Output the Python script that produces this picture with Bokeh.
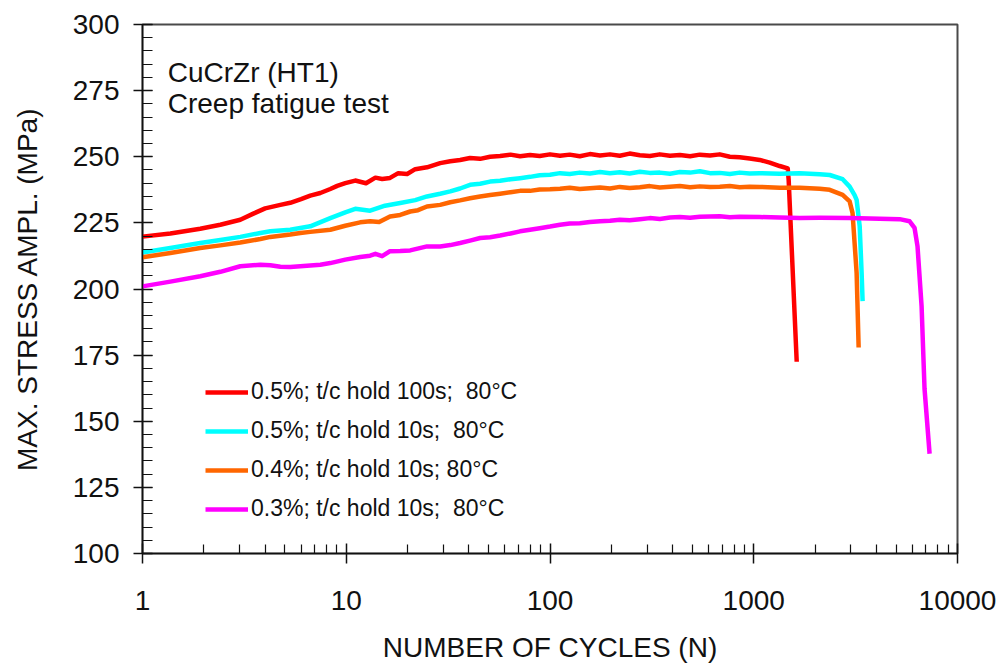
from bokeh.plotting import figure
from bokeh.models import (Range1d, FixedTicker, BasicTickFormatter, Legend,
                          LegendItem, Label)
from bokeh.embed import file_html
from bokeh.resources import INLINE

# ---------------- data ----------------
red_n = [1, 1.37, 1.92, 2.41, 3.02, 3.5, 4.0, 4.75, 5.31, 6.0,
         6.66, 7.46, 8.35, 9.03, 9.89, 11.07, 12.5, 13.9, 15.0, 16.4,
         18.0, 19.9, 21.8, 24.9, 28.9, 32.4, 36.2, 40.5, 45.4, 50.8,
         56.9, 64, 71.3, 79.8, 89, 100, 112, 125, 140, 157,
         176, 197, 220, 246, 276, 309, 346, 388, 434, 487,
         544, 610, 681, 763, 853, 955, 1070, 1198, 1341, 1468,
         1484, 1625]
red_s = [219.8, 221.0, 222.8, 224.3, 226.2, 228.5, 230.5, 231.8, 232.6, 234.0,
         235.3, 236.3, 237.8, 239.0, 240.0, 241.0, 240.0, 242.1, 241.6, 242.0,
         243.8, 243.5, 245.3, 246.0, 247.6, 248.3, 248.8, 249.5, 249.2, 250.0,
         250.3, 250.8, 250.2, 250.7, 250.3, 250.9, 250.4, 250.8, 250.2, 251.0,
         250.5, 250.9, 250.4, 251.2, 250.6, 250.3, 250.9, 250.4, 250.7, 250.2,
         250.8, 250.5, 250.9, 250.0, 249.8, 249.3, 248.8, 247.8, 246.5, 245.6,
         241.2, 172.5]

cyan_n = [1, 1.37, 1.92, 2.41, 3.02, 3.79, 4.24, 5.31, 6.66, 8.35,
          9.89, 11.07, 13.1, 15.5, 18.4, 21.8, 24.9, 28.9, 32.4, 36.2,
          40.5, 45.4, 50.8, 56.9, 64, 71.3, 79.8, 89, 100, 112,
          125, 140, 157, 176, 197, 220, 246, 276, 309, 346,
          388, 434, 487, 544, 610, 681, 763, 853, 955, 1070,
          1341, 1680, 2107, 2360, 2731, 2956, 3126, 3198, 3311, 3384,
          3422]
cyan_s = [213.8, 215.5, 217.4, 218.5, 219.7, 221.2, 221.8, 222.4, 223.7, 226.8,
          229.0, 230.3, 229.6, 231.5, 232.5, 233.6, 235.0, 236.0, 236.9, 238.0,
          239.4, 239.8, 240.6, 240.9, 241.5, 241.9, 242.4, 243.0, 243.2, 243.8,
          243.5, 244.0, 243.7, 244.2, 243.8, 244.1, 243.7, 244.3, 243.9, 244.0,
          243.6, 244.2, 244.0, 244.5, 243.8, 243.9, 243.5, 244.0, 243.7, 243.8,
          243.6, 243.8, 243.4, 243.1, 241.5, 238.7, 235.5, 233.7, 223.7, 206.1,
          195.4]

orange_n = [1, 1.37, 1.92, 2.41, 3.02, 3.79, 4.24, 5.31, 5.95, 6.66,
            8.35, 9.89, 11.7, 13.1, 14.5, 16.4, 18.4, 20.6, 22.5, 24.9,
            28.9, 32.4, 36.2, 40.5, 45.4, 50.8, 56.9, 64, 71.3, 79.8,
            89, 100, 112, 125, 140, 157, 176, 197, 220, 246,
            276, 309, 346, 388, 434, 487, 544, 610, 681, 763,
            853, 955, 1070, 1341, 1680, 2107, 2360, 2731, 2956, 3055,
            3198, 3272]
orange_s = [212.0, 213.6, 215.5, 216.5, 217.6, 218.9, 219.7, 220.6, 221.2, 221.6,
            222.4, 223.9, 225.2, 225.6, 225.3, 227.4, 228.0, 229.3, 229.8, 231.2,
            231.8, 232.8, 233.5, 234.3, 235.0, 235.5, 236.0, 236.6, 237.1, 237.1,
            237.6, 237.7, 237.9, 238.3, 237.8, 238.1, 238.4, 238.0, 238.6, 238.2,
            238.5, 238.9, 238.4, 238.7, 238.9, 238.5, 238.8, 238.6, 238.7, 238.9,
            238.5, 238.7, 238.6, 238.3, 238.3, 237.9, 237.5, 235.6, 233.1, 228.7,
            206.1, 177.9]

magenta_n = [1, 1.37, 1.92, 2.41, 3.02, 3.79, 4.24, 4.75, 5.31, 5.95,
             6.66, 7.46, 8.35, 9.89, 11.7, 13.1, 13.9, 15.0, 16.4, 18.4,
             20.6, 24.9, 28.9, 32.4, 36.2, 40.5, 45.4, 50.8, 56.9, 64,
             71.3, 79.8, 89, 100, 112, 125, 140, 157, 176, 197,
             220, 246, 276, 309, 346, 388, 434, 487, 544, 610,
             681, 763, 853, 1070, 1341, 1680, 2107, 2956, 4151, 5200,
             5821, 6154, 6365, 6664, 6891, 7295]
magenta_s = [201.0, 202.8, 204.8, 206.5, 208.6, 209.2, 209.0, 208.4, 208.3, 208.6,
             208.9, 209.2, 209.8, 211.1, 212.1, 212.6, 213.3, 212.4, 214.3, 214.4,
             214.6, 216.1, 216.1, 216.6, 217.4, 218.3, 219.3, 219.6, 220.2, 221.0,
             221.8, 222.4, 223.0, 223.6, 224.3, 224.8, 224.9, 225.3, 225.6, 225.8,
             226.2, 226.0, 226.4, 226.8, 226.5, 227.0, 227.2, 226.9, 227.3, 227.4,
             227.5, 227.1, 227.3, 227.2, 227.0, 226.8, 226.9, 226.8, 226.6, 226.4,
             225.6, 223.1, 216.1, 193.5, 162.2, 137.7]

series_labels = ["0.5%; t/c hold 100s;  80°C",
                 "0.5%; t/c hold 10s;  80°C",
                 "0.4%; t/c hold 10s; 80°C",
                 "0.3%; t/c hold 10s;  80°C"]
series_colors = ["#ff0000", "#00ffff", "#ff6600", "#ff00ff"]

x_major = [1, 10, 100, 1000, 10000]
x_minor = [m * d for d in (1, 10, 100, 1000) for m in range(2, 10)]
y_major = [100, 125, 150, 175, 200, 225, 250, 275, 300]
y_minor = list(range(100, 301, 5))

title_lines = ["CuCrZr (HT1)", "Creep fatigue test"]
title_x = 1.33
title_y = [281.9, 270.3]

FONT = "Liberation Sans"

# ---------------- figure ----------------
p = figure(width=1000, height=665, x_axis_type="log",
           x_range=Range1d(1, 10000), y_range=Range1d(100, 300),
           output_backend="svg", toolbar_location=None,
           min_border_left=142, min_border_top=24,
           min_border_right=43, min_border_bottom=110)
p.background_fill_color = "white"
p.border_fill_color = "white"
p.xgrid.visible = False
p.ygrid.visible = False
p.outline_line_color = "#4a4a4a"
p.outline_line_width = 2

renderers = []
for xs, ys, c in zip([red_n, cyan_n, orange_n, magenta_n],
                     [red_s, cyan_s, orange_s, magenta_s], series_colors):
    r = p.line(xs, ys, line_color=c, line_width=4.5, line_join="round")
    renderers.append(r)

# axes
xa = p.xaxis[0]
xa.ticker = FixedTicker(ticks=x_major, minor_ticks=x_minor)
xa.formatter = BasicTickFormatter()
ya = p.yaxis[0]
ya.ticker = FixedTicker(ticks=y_major, minor_ticks=y_minor)

for ax in (xa, ya):
    ax.axis_line_color = "#111111"
    ax.axis_line_width = 1.5
    ax.major_tick_line_color = "#111111"
    ax.major_tick_line_width = 1.5
    ax.minor_tick_line_color = "#111111"
    ax.minor_tick_line_width = 1.2
    ax.major_tick_in = 10
    ax.minor_tick_out = 0
    ax.major_label_text_font = FONT
    ax.major_label_text_font_size = "28px"
    ax.major_label_text_color = "#111111"
    ax.axis_label_text_font = FONT
    ax.axis_label_text_font_size = "28px"
    ax.axis_label_text_font_style = "normal"
    ax.axis_label_text_color = "#111111"

xa.axis_label = "NUMBER OF CYCLES (N)"
xa.major_tick_out = 10
xa.minor_tick_in = 9
xa.major_label_standoff = 27
xa.axis_label_standoff = 19

ya.axis_label = "MAX. STRESS AMPL. (MPa)"
ya.major_tick_out = 9
ya.minor_tick_in = 10
ya.major_label_standoff = 14
ya.axis_label_standoff = 27

# annotation text
for t, yy in zip(title_lines, title_y):
    p.add_layout(Label(x=title_x, y=yy, text=t, text_font=FONT,
                       text_font_size="28px", text_color="#111111",
                       text_baseline="middle", text_align="left"))

legend = Legend(items=[LegendItem(label=l, renderers=[r])
                       for l, r in zip(series_labels, renderers)],
                location=(63, 31), padding=0, margin=0,
                border_line_color=None, background_fill_alpha=0,
                label_text_font=FONT, label_text_font_size="23px",
                label_text_color="#111111",
                glyph_width=43, glyph_height=22, label_height=22,
                label_standoff=3, spacing=12)
p.add_layout(legend)

open("out.html", "w").write(file_html(p, INLINE))
